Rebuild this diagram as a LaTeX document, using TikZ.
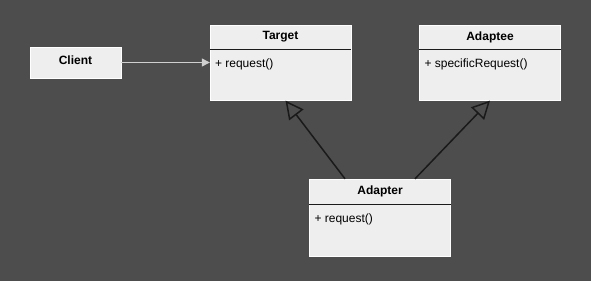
\documentclass[tikz,border=0pt]{standalone}
\usepackage{fontspec}
\setmainfont{Liberation Sans}
\usepackage{xcolor}
\usetikzlibrary{positioning, arrows.meta}
\definecolor{fondo}{HTML}{4D4D4D}
\definecolor{caja}{HTML}{EEEEEE}
\definecolor{linea}{HTML}{1A1A1A}
\definecolor{asoc}{HTML}{D0D0D0}
\tikzset{
  head/.style={
    draw=white, fill=caja, inner sep=0pt,
    minimum width=141pt, minimum height=24pt,
    font=\fontsize{12}{14}\selectfont\bfseries
  },
  body/.style={
    draw=white, fill=caja, inner sep=0pt,
    minimum width=141pt, minimum height=51pt
  },
  member/.style={anchor=base west, inner sep=0pt, font=\fontsize{12}{14}\selectfont},
  sep/.style={draw=linea, line width=1pt},
  herencia/.style={draw=linea, line width=1.5pt, -{Triangle[open, length=18pt, width=18pt, line width=1.5pt]}},
}
\begin{document}
\begin{tikzpicture}[x=1pt, y=-1pt]
  \fill[fondo] (0,0) rectangle (591,281);
  \useasboundingbox (0,0) rectangle (591,281);

  % Clases
  \node[head, minimum width=91pt, minimum height=31pt] (client) at (75.5,62.5) {\raisebox{4pt}{Client}};

  \node[head] (target) at (280.5,37) {Target};
  \node[body, below=0pt of target] (targetm) {};
  \node[member] (targetop) at ([shift={(5,18)}]targetm.north west) {+ request()};

  \node[head] (adaptee) at (490,37) {Adaptee};
  \node[body, below=0pt of adaptee] (adapteem) {};
  \node[member] (adapteeop) at ([shift={(5,18)}]adapteem.north west) {+ specificRequest()};

  \node[head, minimum height=25pt] (adapter) at (380,191.5) {Adapter};
  \node[body, minimum height=52pt, below=0pt of adapter] (adapterm) {};
  \node[member] (adapterop) at ([shift={(5,18)}]adapterm.north west) {+ request()};

  % Separadores
  \draw[sep] (target.south west) -- (target.south east);
  \draw[sep] (adaptee.south west) -- (adaptee.south east);
  \draw[sep] (adapter.south west) -- (adapter.south east);

  % Asociación
  \draw[asoc, line width=1.2pt, -{Triangle[length=8pt, width=8pt]}]
    (client.east) -- (client.east -| targetm.west);

  % Herencia
  \draw[herencia] ([xshift=-35pt]adapter.north) -- ([xshift=5pt]targetm.south);
  \draw[herencia] ([xshift=35pt]adapter.north) -- (adapteem.south);
\end{tikzpicture}
\end{document}
